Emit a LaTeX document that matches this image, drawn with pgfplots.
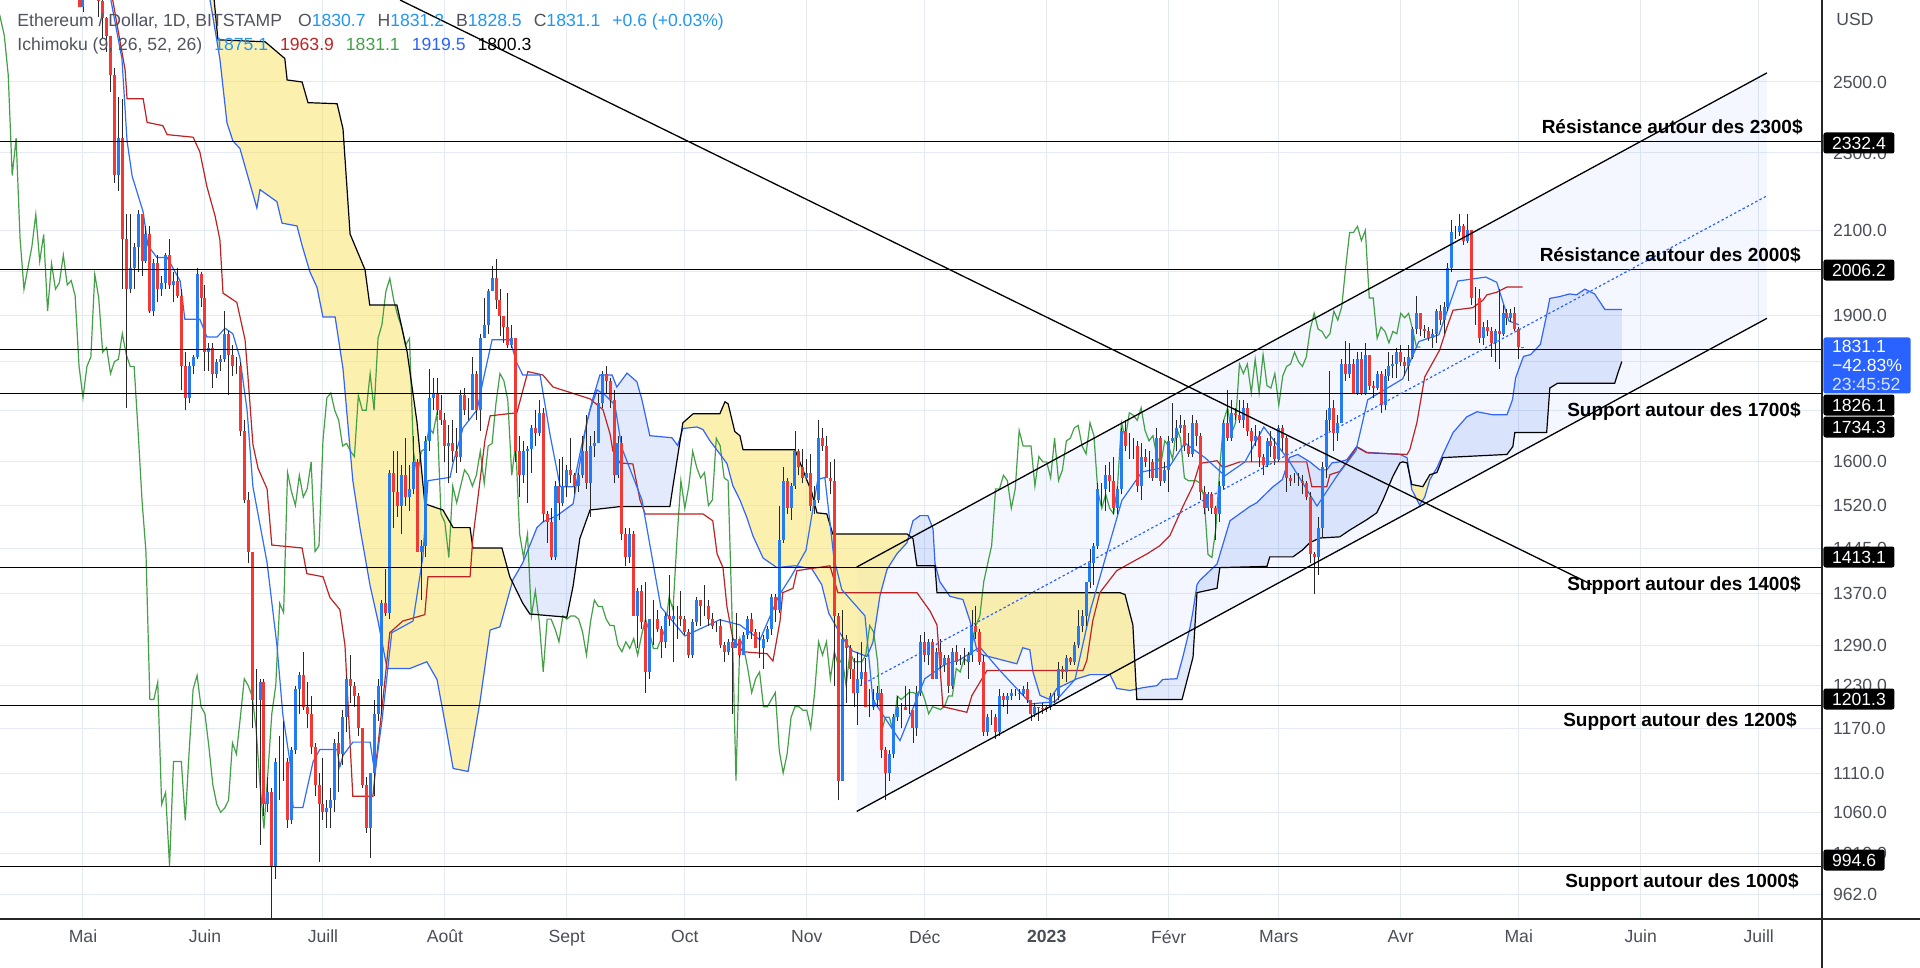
\documentclass[border=0pt]{standalone}
\usepackage{pgfplots}
\pgfplotsset{compat=1.18}
\usepackage{pgfplotstable}
\usepgfplotslibrary{fillbetween}
\usepackage{fontspec}
\setmainfont{Liberation Sans}

\definecolor{gridcol}{RGB}{228,234,243}
\definecolor{tickgray}{RGB}{75,78,88}
\definecolor{upcol}{RGB}{36,124,245}
\definecolor{dncol}{RGB}{244,57,52}
\definecolor{wickcol}{RGB}{40,40,40}
\definecolor{tenkancol}{RGB}{45,110,245}
\definecolor{spanAcol}{RGB}{50,100,250}
\definecolor{kijuncol}{RGB}{190,35,35}
\definecolor{chikoucol}{RGB}{67,160,71}
\definecolor{cloudyel}{RGB}{250,226,95}
\definecolor{cloudblue}{RGB}{90,130,235}
\definecolor{tvblue}{RGB}{41,98,255}
\definecolor{legblue}{RGB}{33,150,243}
\definecolor{leggray}{RGB}{80,83,94}
\definecolor{dotblue}{RGB}{41,98,255}

\newcommand\tfont{\fontsize{8.8}{10.5}\selectfont}
\newcommand\bfont{\bfseries\fontsize{9.5}{11}\selectfont}

\pgfplotstableread{
d o h l c
-2 2930 2945 2790 2815
-1 2815 2840 2730 2730
0 2730 2840 2715 2830
1 2830 2880 2780 2860
2 2860 2870 2770 2780
3 2780 2960 2760 2940
4 2940 2955 2700 2750
5 2750 2760 2630 2695
6 2695 2700 2590 2640
7 2640 2640 2470 2520
8 2520 2540 2220 2240
9 2240 2455 2200 2340
10 2340 2450 1960 2080
11 2080 2140 1705 1960
12 1960 2140 1950 2010
13 2010 2070 1960 2060
14 2060 2150 2000 2140
15 2140 2140 1990 2025
16 2025 2110 2020 2090
17 2090 2110 1905 1910
18 1910 2030 1900 2020
19 2020 2040 1930 1960
20 1960 1990 1945 1975
21 1975 2045 1960 2040
22 2040 2080 1960 1970
23 1970 2000 1930 1980
24 1980 2010 1940 1945
25 1945 1960 1740 1790
26 1790 1820 1700 1725
27 1725 1800 1715 1790
28 1790 1815 1775 1810
29 1810 2010 1805 1995
30 1995 2000 1920 1940
31 1940 1970 1780 1820
32 1820 1840 1780 1830
33 1830 1840 1745 1775
34 1775 1805 1765 1800
35 1800 1815 1780 1805
36 1805 1910 1800 1860
37 1860 1865 1730 1815
38 1815 1835 1770 1790
39 1790 1810 1775 1790
40 1790 1800 1650 1660
41 1660 1680 1525 1530
42 1530 1545 1420 1440
43 1440 1440 1170 1210
44 1210 1255 1090 1210
45 1210 1240 1020 1235
46 1235 1240 1055 1070
47 1070 1105 1060 1085
48 1085 1090 880 995
49 995 1130 980 1125
50 1125 1160 1075 1125
51 1125 1180 1100 1125
52 1125 1130 1040 1050
53 1050 1145 1045 1140
54 1140 1230 1135 1225
55 1225 1250 1190 1245
56 1245 1280 1195 1200
57 1200 1235 1170 1190
58 1190 1215 1135 1145
59 1145 1150 1080 1095
60 1095 1110 1000 1070
61 1070 1130 1050 1060
62 1060 1075 1040 1065
63 1065 1090 1040 1075
64 1075 1155 1060 1150
65 1150 1165 1085 1135
66 1135 1195 1120 1185
67 1185 1245 1165 1240
68 1240 1275 1205 1230
69 1230 1235 1200 1215
70 1215 1220 1160 1170
71 1170 1170 1090 1095
72 1095 1105 1035 1040
73 1040 1110 1005 1110
74 1110 1210 1080 1190
75 1190 1240 1180 1230
76 1230 1360 1190 1355
77 1355 1410 1335 1340
78 1340 1585 1330 1580
79 1580 1620 1480 1545
80 1545 1620 1500 1520
81 1520 1595 1470 1575
82 1575 1645 1520 1535
83 1535 1595 1510 1550
84 1550 1650 1540 1600
85 1600 1605 1440 1440
86 1440 1460 1360 1450
87 1450 1650 1430 1640
88 1640 1785 1620 1725
89 1725 1765 1700 1735
90 1735 1765 1690 1700
91 1700 1730 1670 1680
92 1680 1695 1600 1630
93 1630 1670 1560 1635
94 1635 1680 1600 1620
95 1620 1665 1580 1610
96 1610 1740 1600 1730
97 1730 1745 1690 1700
98 1700 1725 1680 1700
99 1700 1810 1700 1775
100 1775 1780 1680 1700
101 1700 1860 1660 1850
102 1850 1940 1850 1880
103 1880 1960 1860 1955
104 1955 2015 1955 1985
105 1985 2030 1915 1935
106 1935 1960 1855 1900
107 1900 1900 1840 1875
108 1875 1950 1830 1835
109 1835 1880 1830 1850
110 1850 1850 1600 1620
111 1620 1650 1535 1575
112 1575 1640 1560 1620
113 1620 1630 1525 1625
114 1625 1670 1580 1665
115 1665 1700 1630 1655
116 1655 1720 1650 1695
117 1695 1705 1490 1505
118 1505 1510 1455 1490
119 1490 1515 1425 1430
120 1430 1565 1425 1555
121 1555 1605 1495 1525
122 1525 1610 1520 1555
123 1555 1595 1535 1585
124 1585 1645 1560 1575
125 1575 1580 1540 1555
126 1555 1580 1545 1575
127 1575 1650 1570 1620
128 1620 1690 1550 1560
129 1560 1650 1500 1630
130 1630 1660 1610 1635
131 1635 1735 1635 1715
132 1715 1780 1705 1775
133 1775 1790 1735 1760
134 1760 1765 1705 1720
135 1720 1740 1560 1575
136 1575 1650 1570 1635
137 1635 1650 1460 1470
138 1470 1480 1415 1430
139 1430 1480 1420 1470
140 1470 1475 1335 1335
141 1335 1380 1285 1375
142 1375 1385 1315 1325
143 1325 1390 1220 1250
144 1250 1330 1240 1330
145 1330 1360 1290 1330
146 1330 1345 1310 1315
147 1315 1320 1270 1295
148 1295 1340 1285 1335
149 1335 1400 1320 1330
150 1330 1350 1265 1335
151 1335 1350 1300 1335
152 1335 1375 1320 1330
153 1330 1335 1305 1310
154 1310 1315 1270 1275
155 1275 1330 1270 1325
156 1325 1365 1320 1360
157 1360 1360 1320 1350
158 1350 1385 1335 1350
159 1350 1360 1320 1330
160 1330 1340 1315 1320
161 1320 1325 1310 1320
162 1320 1330 1285 1290
163 1290 1295 1265 1280
164 1280 1300 1275 1295
165 1295 1305 1190 1285
166 1285 1340 1285 1300
167 1300 1300 1270 1275
168 1275 1310 1275 1305
169 1305 1335 1300 1330
170 1330 1340 1300 1310
171 1310 1315 1285 1285
172 1285 1310 1270 1285
173 1285 1305 1255 1300
174 1300 1320 1295 1315
175 1315 1370 1305 1365
176 1365 1370 1325 1345
177 1345 1520 1340 1460
178 1460 1590 1455 1565
179 1565 1570 1505 1515
180 1515 1560 1495 1555
181 1555 1660 1550 1620
182 1620 1625 1575 1590
183 1590 1625 1560 1570
184 1570 1605 1565 1580
185 1580 1615 1510 1520
186 1520 1555 1505 1530
187 1530 1680 1525 1645
188 1645 1665 1620 1630
189 1630 1650 1570 1570
190 1570 1600 1540 1565
191 1565 1605 1230 1335
192 1335 1340 1075 1100
193 1100 1345 1100 1300
194 1300 1305 1205 1285
195 1285 1290 1240 1255
196 1255 1270 1200 1220
197 1220 1280 1175 1240
198 1240 1295 1230 1250
199 1250 1270 1200 1200
200 1200 1225 1185 1200
201 1200 1225 1195 1210
202 1210 1230 1200 1220
203 1220 1225 1130 1140
204 1140 1145 1075 1110
205 1110 1140 1100 1135
206 1135 1190 1130 1185
207 1185 1215 1180 1200
208 1200 1205 1170 1200
209 1200 1230 1195 1195
210 1195 1225 1190 1195
211 1195 1195 1150 1170
212 1170 1230 1160 1220
213 1220 1305 1215 1295
214 1295 1310 1265 1275
215 1275 1300 1260 1295
216 1295 1300 1240 1240
217 1240 1285 1240 1280
218 1280 1300 1255 1260
219 1260 1275 1250 1270
220 1270 1275 1220 1230
221 1230 1285 1225 1280
222 1280 1290 1260 1265
223 1265 1275 1260 1265
224 1265 1285 1260 1265
225 1265 1280 1240 1275
226 1275 1345 1265 1320
227 1320 1350 1300 1310
228 1310 1315 1260 1265
229 1265 1275 1160 1165
230 1165 1190 1160 1185
231 1185 1195 1175 1185
232 1185 1190 1155 1165
233 1165 1225 1160 1215
234 1215 1220 1200 1210
235 1210 1220 1190 1215
236 1215 1225 1210 1220
237 1220 1225 1215 1220
238 1220 1225 1210 1218
239 1218 1230 1215 1225
240 1225 1235 1205 1210
241 1210 1210 1180 1190
242 1190 1205 1185 1200
243 1200 1200 1180 1198
244 1198 1205 1190 1196
245 1196 1203 1192 1200
246 1200 1220 1195 1215
247 1215 1220 1205 1215
248 1215 1265 1210 1255
249 1255 1258 1240 1250
250 1250 1275 1235 1270
251 1270 1272 1260 1265
252 1265 1295 1260 1290
253 1290 1345 1285 1320
254 1320 1345 1310 1335
255 1335 1390 1320 1390
256 1390 1445 1380 1420
257 1420 1455 1385 1450
258 1450 1560 1445 1550
259 1550 1560 1520 1550
260 1550 1595 1510 1575
261 1575 1600 1545 1565
262 1565 1610 1505 1515
263 1515 1555 1505 1550
264 1550 1665 1540 1660
265 1660 1680 1620 1630
266 1630 1655 1605 1630
267 1630 1645 1605 1630
268 1630 1640 1545 1555
269 1555 1635 1530 1610
270 1610 1625 1590 1600
271 1600 1620 1570 1600
272 1600 1605 1565 1570
273 1570 1665 1570 1645
274 1645 1650 1555 1565
275 1565 1600 1560 1585
276 1585 1650 1545 1640
277 1640 1715 1635 1645
278 1645 1680 1620 1665
279 1665 1690 1655 1670
280 1670 1680 1620 1630
281 1630 1655 1610 1615
282 1615 1690 1610 1675
283 1675 1680 1630 1650
284 1650 1655 1530 1545
285 1545 1555 1505 1515
286 1515 1545 1510 1540
287 1540 1545 1505 1515
288 1515 1520 1460 1505
289 1505 1565 1490 1555
290 1555 1680 1550 1675
291 1675 1740 1640 1645
292 1645 1720 1640 1695
293 1695 1705 1680 1690
294 1690 1720 1675 1680
295 1680 1720 1665 1705
296 1705 1715 1650 1660
297 1660 1665 1600 1640
298 1640 1670 1630 1650
299 1650 1660 1590 1610
300 1610 1615 1575 1595
301 1595 1645 1590 1640
302 1640 1660 1610 1630
303 1630 1645 1595 1605
304 1605 1670 1600 1665
305 1665 1670 1620 1645
306 1645 1650 1545 1570
307 1570 1575 1555 1565
308 1565 1580 1560 1565
309 1565 1580 1555 1565
310 1565 1575 1540 1560
311 1560 1565 1530 1535
312 1535 1545 1420 1435
313 1435 1440 1370 1430
314 1430 1500 1400 1480
315 1480 1600 1465 1590
316 1590 1700 1570 1680
317 1680 1780 1660 1705
318 1705 1720 1620 1655
319 1655 1690 1640 1675
320 1675 1805 1675 1795
321 1795 1845 1760 1775
322 1775 1840 1765 1795
323 1795 1805 1735 1735
324 1735 1820 1730 1805
325 1805 1820 1730 1735
326 1735 1840 1730 1815
327 1815 1815 1740 1750
328 1750 1760 1725 1745
329 1745 1780 1740 1775
330 1775 1780 1695 1710
331 1710 1785 1700 1770
332 1770 1820 1760 1790
333 1790 1815 1765 1795
334 1795 1830 1765 1820
335 1820 1835 1790 1800
336 1800 1810 1770 1790
337 1790 1835 1760 1810
338 1810 1875 1805 1870
339 1870 1945 1860 1905
340 1905 1905 1855 1870
341 1870 1880 1850 1865
342 1865 1875 1845 1850
343 1850 1870 1830 1860
344 1860 1915 1840 1910
345 1910 1925 1880 1890
346 1890 1930 1860 1920
347 1920 2020 1910 2010
348 2010 2125 2000 2095
349 2095 2110 2080 2095
350 2095 2140 2085 2110
351 2110 2115 2065 2075
352 2075 2140 2070 2100
353 2100 2100 1925 1940
354 1940 1965 1880 1940
355 1940 1960 1840 1850
356 1850 1885 1835 1875
357 1875 1890 1855 1865
358 1865 1875 1810 1840
359 1840 1870 1800 1865
360 1865 1960 1785 1860
361 1860 1925 1855 1905
362 1905 1915 1880 1895
363 1895 1915 1885 1905
364 1905 1920 1865 1870
365 1870 1875 1805 1831
366 1830.7 1831.2 1828.5 1831.1
}\ohlc

\pgfplotstableread{
d v
30.5 2790
32.3 2753
34.8 2569
36.6 2383
38.1 2333
39.9 2312
41.9 2238
44.2 2156
45.0 2203
49.3 2172
50.6 2118
54.4 2111
55.7 2063
57.7 2000
59.5 1964
61.0 1897
64.1 1897
66.1 1785
68.6 1565
70.4 1481
73.0 1383
75.0 1327
77.3 1255
83.1 1255
87.4 1265
90.0 1239
92.5 1164
94.1 1116
97.9 1112
100.9 1206
103.5 1313
106.0 1318
109.3 1393
111.8 1421
115.4 1481
116.9 1491
120.5 1502
124.6 1523
126.3 1598
128.1 1677
129.6 1723
131.4 1772
134.5 1772
135.7 1747
138.3 1776
140.8 1758
142.1 1721
144.1 1650
149.7 1646
151.2 1631
152.5 1664
156.1 1667
157.6 1662
159.4 1640
161.9 1615
163.7 1597
165.2 1556
167.0 1530
168.8 1498
170.3 1467
172.9 1429
176.4 1413
181.0 1416
185.3 1411
187.8 1385
189.6 1339
191.7 1316
194.2 1291
195.7 1281
199.3 1273
200.8 1294
202.6 1367
204.4 1410
206.9 1436
209.5 1455
211.0 1493
212.8 1502
214.8 1502
216.1 1479
216.6 1420
217.8 1390
220.4 1366
223.7 1361
225.5 1327
227.3 1281
228.8 1275
237.4 1262
238.9 1286
240.7 1283
241.5 1250
243.3 1216
245.8 1210
247.6 1226
249.1 1230
252.7 1240
256.0 1246
261.1 1246
262.8 1226
266.1 1223
269.4 1227
273.0 1230
274.5 1239
278.1 1240
279.6 1272
281.4 1316
282.2 1343
283.2 1385
283.9 1392
288.3 1419
291.6 1493
296.6 1518
298.4 1525
302.4 1553
304.9 1567
306.7 1608
308.8 1614
311.9 1600
314.4 1585
316.2 1585
317.5 1598
319.5 1600
321.3 1604
323.8 1629
326.4 1618
334.8 1614
336.6 1608
337.8 1549
339.8 1521
341.1 1535
342.4 1567
344.2 1589
345.7 1614
348.3 1656
351.8 1687
354.4 1697
358.4 1691
362.0 1691
363.4 1721
364.2 1766
366.2 1811
368.0 1815
370.5 1837
372.1 1902
372.9 1939
375.4 1943
377.9 1949
379.7 1947
381.8 1960
384.3 1949
386.9 1914
391.2 1914
}\spanA

\pgfplotstableread{
d v
33.0 2800
34.3 2627
46.3 2621
51.3 2570
51.9 2506
55.7 2500
57.2 2440
64.6 2437
66.1 2366
67.9 2091
70.4 2034
71.7 2005
72.9 1924
79.8 1924
82.4 1821
84.9 1677
86.9 1523
91.5 1512
94.1 1481
98.4 1481
99.1 1446
106.5 1446
108.5 1398
111.8 1355
113.6 1338
123.0 1333
124.6 1383
126.3 1462
128.9 1512
136.5 1518
149.2 1518
150.0 1556
151.0 1602
152.5 1675
155.1 1693
161.9 1693
163.2 1717
164.0 1713
165.7 1658
167.0 1650
167.8 1623
181.0 1623
185.3 1543
186.6 1507
189.1 1505
190.6 1470
209.5 1470
211.0 1462
212.0 1416
216.6 1416
217.1 1372
263.6 1372
264.9 1369
266.9 1321
267.9 1210
279.4 1210
282.2 1272
283.2 1372
288.3 1379
289.0 1413
301.0 1415
301.7 1431
307.6 1431
310.1 1443
311.9 1455
314.4 1463
319.5 1465
322.1 1477
326.4 1495
328.9 1507
330.5 1530
333.0 1573
334.8 1598
335.5 1600
336.6 1598
337.8 1558
340.6 1554
342.4 1576
344.2 1580
345.7 1608
362.0 1614
363.5 1629
364.0 1656
372.1 1656
372.9 1745
374.9 1755
389.4 1755
390.2 1776
391.2 1800
}\spanB

\pgfplotstableread{
d v
6.4 2800
9.9 2569
11.2 2333
12.5 2238
15.3 2146
16.5 2063
18.8 2034
21.4 2034
24.7 1979
25.9 1892
29.7 1892
31.5 1853
34.1 1853
36.1 1872
38.1 1860
39.9 1808
41.7 1701
43.2 1554
46.8 1421
49.3 1290
50.8 1189
52.6 1125
53.4 1066
55.9 1066
58.5 1125
60.2 1141
64.6 1141
65.3 1118
66.1 1133
68.6 1151
73.0 1151
74.2 1109
76.0 1180
78.5 1309
83.9 1327
86.4 1431
87.7 1565
93.3 1571
94.1 1598
96.6 1665
100.2 1701
101.7 1760
104.0 1847
108.5 1847
110.3 1797
111.8 1772
116.2 1772
118.7 1653
121.3 1554
124.6 1554
126.8 1632
128.9 1701
130.7 1741
132.7 1731
135.2 1711
137.0 1626
142.1 1530
146.9 1349
153.0 1304
161.9 1329
167.0 1321
172.1 1298
176.9 1367
180.0 1398
183.8 1442
186.8 1567
188.6 1571
190.9 1429
192.9 1377
198.8 1335
200.8 1210
207.7 1153
214.0 1240
219.1 1261
222.9 1268
228.0 1287
233.1 1252
241.0 1204
247.1 1207
252.2 1239
256.2 1346
259.0 1408
264.1 1529
269.2 1581
276.3 1592
280.1 1636
285.2 1608
290.3 1574
295.4 1600
300.2 1667
306.6 1602
313.7 1519
318.8 1574
323.6 1621
326.6 1721
335.5 1764
339.6 1843
344.7 1858
349.5 1979
356.6 1988
359.4 1976
362.5 1888
365.0 1880
}\tenkan

\pgfplotstableread{
d v
6.9 2800
10.7 2536
11.2 2451
15.3 2451
16.3 2384
20.3 2375
21.4 2350
28.0 2343
29.7 2303
31.5 2211
33.6 2135
34.8 2077
35.6 1951
39.1 1930
41.2 1847
41.9 1773
43.2 1633
44.5 1588
46.8 1550
48.0 1451
55.7 1446
56.9 1403
61.0 1398
62.8 1364
65.3 1345
66.6 1290
68.6 1080
73.7 1080
74.7 1133
76.3 1213
78.0 1309
81.3 1327
86.9 1337
87.7 1398
98.4 1398
99.1 1462
100.4 1534
102.2 1642
103.5 1689
110.3 1695
113.1 1779
116.9 1772
119.5 1747
128.9 1723
132.2 1701
134.0 1653
134.7 1621
136.5 1598
139.8 1596
141.6 1530
142.9 1505
157.6 1505
160.1 1493
161.2 1436
162.7 1413
163.7 1350
165.2 1300
167.8 1280
173.9 1277
175.4 1266
177.2 1327
177.9 1372
180.5 1379
181.5 1408
189.9 1416
191.9 1372
212.0 1372
215.3 1343
217.1 1321
218.6 1200
224.7 1192
226.0 1216
229.8 1252
254.2 1252
255.2 1267
256.7 1327
258.5 1372
262.8 1408
266.1 1420
270.5 1436
273.8 1450
276.3 1467
279.6 1518
282.2 1556
283.9 1597
288.3 1602
289.8 1589
294.1 1600
311.1 1600
312.4 1554
316.2 1554
317.0 1576
319.5 1582
321.3 1600
323.8 1628
326.4 1617
336.6 1614
337.3 1623
339.1 1675
340.4 1735
341.1 1768
344.9 1825
346.7 1873
348.3 1912
353.3 1918
355.9 1935
356.9 1947
359.4 1953
362.0 1965
366.0 1965
}\kijun

\begin{document}
\begin{tikzpicture}
\begin{axis}[
  at={(0,0)}, anchor=north west,
  scale only axis, width=911pt, height=459.5pt,
  xmin=-21.1, xmax=442.1,
  ymode=log, ymin=935, ymax=2753,
  enlargelimits=false,
  axis line style={draw=none},
  major tick length=0pt, minor tick num=0,
  grid=major,
  major grid style={draw=gridcol, line width=0.5pt},
  xtick pos=bottom, ytick pos=right,
  yticklabel pos=right,
  xtick={0,31,61,92,123,153,184,214,245,276,304,335,365,396,426},
  xticklabels={Mai,Juin,Juill,Août,Sept,Oct,Nov,Déc,\textbf{2023},Févr,Mars,Avr,Mai,Juin,Juill},
  ytick={962,1010,1060,1110,1170,1230,1290,1370,1445,1520,1600,1900,2100,2300,2500},
  yticklabels={962.0,1010.0,1060.0,1110.0,1170.0,1230.0,1290.0,1370.0,1445.0,1520.0,1600.0,1900.0,2100.0,2300.0,2500.0},
  extra y ticks={1700,1800,2000},
  extra y tick labels={},
  ticklabel style={font=\tfont, text=tickgray},
  xticklabel style={yshift=-2pt},
  yticklabel style={xshift=2pt},
  candle/.style={draw=none, mark=none, forget plot,
    error bars/.cd, y dir=plus, y explicit, error mark=none},
]
% channel fill
\addplot[draw=none, name path=chU, forget plot] coordinates {(196.7,1414) (428.1,2527)};
\addplot[draw=none, name path=chL, forget plot] coordinates {(196.7,1061) (428.1,1894)};
\addplot[fill=blue!70!cyan, fill opacity=0.045, forget plot] fill between[of=chU and chL];
% cloud
\addplot[draw=none, name path=spA, forget plot] table {\spanA};
\addplot[draw=none, name path=spB, forget plot] table {\spanB};
\addplot[forget plot] fill between[of=spA and spB, split,
  every even segment/.style={fill=cloudyel, fill opacity=0.5},
  every odd segment/.style={fill=cloudblue, fill opacity=0.17}];
% chikou
\addplot[chikoucol, line width=0.6pt, forget plot] table[x expr=\thisrow{d}-26, y=c] {\ohlc};
% spans
\addplot[spanAcol, line width=0.6pt, forget plot] table {\spanA};
\addplot[black, line width=0.6pt, forget plot] table {\spanB};
% kijun & tenkan
\addplot[kijuncol, line width=0.6pt, forget plot] table {\kijun};
\addplot[tenkancol, line width=0.6pt, forget plot] table {\tenkan};
% candles: wicks
\addplot[candle, error bar style={draw=wickcol, line width=0.45pt}]
  table[x=d, y=l, y error expr=\thisrow{h}-\thisrow{l}] {\ohlc};
% up bodies
\addplot[x filter/.expression={\thisrow{c}<\thisrow{o} ? nan : x},
  candle, error bar style={draw=upcol, line width=1.5pt}]
  table[x=d, y=o, y error expr=\thisrow{c}-\thisrow{o}] {\ohlc};
% down bodies
\addplot[x filter/.expression={\thisrow{c}<\thisrow{o} ? x : nan},
  candle, error bar style={draw=dncol, line width=1.5pt}]
  table[x=d, y=c, y error expr=\thisrow{o}-\thisrow{c}] {\ohlc};
% horizontal levels
\foreach \lv in {2332.4,2006.2,1826.1,1734.3,1413.1,1201.3,994.6}{
  \edef\tmp{\noexpand\addplot[black, line width=0.55pt, forget plot] coordinates {(-21.1,\lv) (442.1,\lv)};}
  \tmp
}
% trend lines
\addplot[black, line width=0.65pt, forget plot] coordinates {(80.6,2753) (383.6,1385)};
\addplot[black, line width=0.65pt, forget plot] coordinates {(196.7,1414) (428.1,2527)};
\addplot[black, line width=0.65pt, forget plot] coordinates {(196.7,1061) (428.1,1894)};
\addplot[dotblue, line width=0.6pt, dash pattern=on 1.2pt off 1.2pt, forget plot] coordinates {(197.5,1230) (428.1,2187)};
\end{axis}

\begin{scope}[x=0.5pt, y=-0.5pt]
\draw[black!85, line width=0.55pt] (1822,0) -- (1822,968);
\draw[black!85, line width=0.55pt] (0,919) -- (1920,919);
% annotations
\node[anchor=east, font=\bfont, inner sep=0pt] at (1803,127) {Résistance autour des 2300\$};
\node[anchor=east, font=\bfont, inner sep=0pt] at (1801,255) {Résistance autour des 2000\$};
\node[anchor=east, font=\bfont, inner sep=0pt] at (1801,411) {Support autour des 1700\$};
\node[anchor=east, font=\bfont, inner sep=0pt] at (1801,585) {Support autour des 1400\$};
\node[anchor=east, font=\bfont, inner sep=0pt] at (1797,721) {Support autour des 1200\$};
\node[anchor=east, font=\bfont, inner sep=0pt] at (1799,882) {Support autour des 1000\$};
% price boxes
\foreach \yy/\lab in {143/2332.4, 270/2006.2, 405/1826.1, 427/1734.3, 557/1413.1, 699/1201.3, 860/994.6}{
  \node[anchor=west, fill=black, text=white, font=\tfont, inner xsep=4.3pt, inner ysep=0pt,
        minimum height=10.5pt, rounded corners=1.2pt] at (1823,\yy) {\lab};
}
\node[anchor=north west, fill=tvblue, text=white, align=left,
      font=\fontsize{8.8}{9.4}\selectfont, inner xsep=4.3pt, inner ysep=1.5pt,
      rounded corners=1.2pt] at (1823,337) {1831.1\\−42.83\%\\\textcolor{white!82!tvblue}{23:45:52}};
\node[anchor=west, font=\tfont, text=tickgray, inner sep=0pt] at (1836,19) {USD};
% legend
\node[anchor=west, font=\tfont, inner sep=0pt] at (17,22) {\textcolor{leggray}{Ethereum / Dollar, 1D, BITSTAMP}\hspace{8pt}\textcolor{leggray}{O}\textcolor{legblue}{1830.7}\hspace{6pt}\textcolor{leggray}{H}\textcolor{legblue}{1831.2}\hspace{6pt}\textcolor{leggray}{B}\textcolor{legblue}{1828.5}\hspace{6pt}\textcolor{leggray}{C}\textcolor{legblue}{1831.1}\hspace{6pt}\textcolor{legblue}{+0.6 (+0.03\%)}};
\node[anchor=west, font=\tfont, inner sep=0pt] at (17,46) {\textcolor{leggray}{Ichimoku (9, 26, 52, 26)}\hspace{6pt}\textcolor{legblue}{1875.1}\hspace{6pt}\textcolor{kijuncol}{1963.9}\hspace{6pt}\textcolor{chikoucol}{1831.1}\hspace{6pt}\textcolor{tvblue}{1919.5}\hspace{6pt}\textcolor{black}{1800.3}};
\end{scope}
\pgfresetboundingbox
\useasboundingbox (0,0) rectangle (960pt,-484pt);
\end{tikzpicture}
\end{document}
